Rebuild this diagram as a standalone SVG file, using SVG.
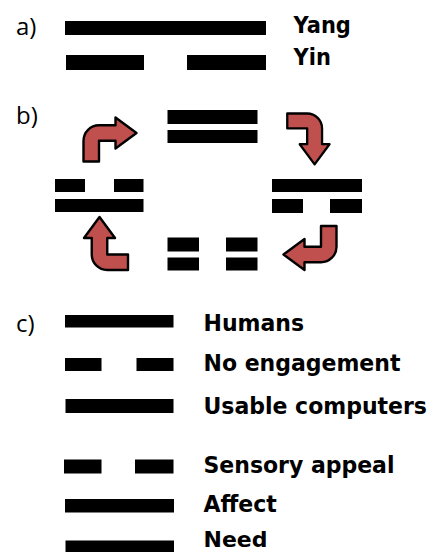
<svg xmlns="http://www.w3.org/2000/svg" width="435" height="552" viewBox="0 0 435 552">
<style>
.bar{fill:#000}
.lbl{font-family:"Open Sans","Noto Sans",sans-serif;font-size:24px;fill:#000}
.txt{font-family:"DejaVu Sans",Verdana,sans-serif;font-weight:bold;font-size:22px;fill:#000}
.sm{font-size:21px}
.arr{fill:#C0504D;stroke:#000;stroke-width:2.4;stroke-linejoin:round}
</style>
<defs>
<path id="bent" d="M0,44 V23.25 A15.5,15.5 0 0 1 15.5,7.75 H32 V0 L53,15.5 L32,31 V23.25 H15.5 V44 Z"/>
</defs>
<rect width="435" height="552" fill="#fff"/>

<g id="section-a">
<text class="lbl" x="16" y="35">a)</text>
<g id="yang"><rect class="bar" x="65" y="21" width="201" height="14"/><text class="txt sm" transform="translate(293.5,32.5) scale(1,1.07)">Yang</text></g>
<g id="yin"><rect class="bar" x="66" y="55" width="78" height="15"/><rect class="bar" x="187" y="55" width="79" height="15"/><text class="txt sm" transform="translate(293.5,65) scale(1,1.07)">Yin</text></g>
</g>

<g id="section-b">
<text class="lbl" x="16" y="124">b)</text>
<g id="tri-top"><rect class="bar" x="167.5" y="110" width="90" height="14"/><rect class="bar" x="167.5" y="130" width="90" height="13"/></g>
<g id="tri-right"><rect class="bar" x="272" y="179" width="90" height="13"/><rect class="bar" x="272" y="199" width="31" height="14"/><rect class="bar" x="330" y="199" width="32" height="14"/></g>
<g id="tri-bottom"><rect class="bar" x="167.5" y="237.5" width="31.5" height="14"/><rect class="bar" x="226" y="237.5" width="31.5" height="14"/><rect class="bar" x="167.5" y="257.5" width="31.5" height="13"/><rect class="bar" x="226" y="257.5" width="31.5" height="13"/></g>
<g id="tri-left"><rect class="bar" x="55" y="179" width="30" height="13"/><rect class="bar" x="114" y="179" width="29.5" height="13"/><rect class="bar" x="55" y="199" width="88.5" height="13"/></g>
<g id="connectors">
<use href="#bent" class="arr" transform="translate(83.5,117.5)"/>
<use href="#bent" class="arr" transform="translate(329.5,113.5) rotate(90) scale(0.96)"/>
<use href="#bent" class="arr" transform="translate(336.5,270) rotate(180)"/>
<use href="#bent" class="arr" transform="translate(84,270) rotate(-90)"/>
</g>
</g>

<g id="section-c">
<text class="lbl" x="16" y="331.5">c)</text>
<g id="humans"><rect class="bar" x="65" y="315" width="108.5" height="12.5"/><text class="txt" transform="translate(203.5,330.5) scale(1,1.07)">Humans</text></g>
<g id="no-engagement"><rect class="bar" x="65" y="358" width="36.5" height="13"/><rect class="bar" x="136.5" y="358" width="37" height="13"/><text class="txt" transform="translate(203.5,371) scale(1,1.07)">No engagement</text></g>
<g id="usable-computers"><rect class="bar" x="65.5" y="399" width="108" height="14"/><text class="txt" transform="translate(203.5,413.5) scale(1,1.07)">Usable computers</text></g>
<g id="sensory-appeal"><rect class="bar" x="64" y="459.5" width="37.5" height="14"/><rect class="bar" x="135" y="459.5" width="38.5" height="14"/><text class="txt" transform="translate(203.5,472.5) scale(1,1.07)">Sensory appeal</text></g>
<g id="affect"><rect class="bar" x="65" y="499" width="109" height="13.5"/><text class="txt" transform="translate(203.5,512.3) scale(1,1.07)">Affect</text></g>
<g id="need"><rect class="bar" x="65.5" y="540.5" width="108.5" height="14"/><text class="txt" x="203.5" y="546.5">Need</text></g>
</g>
</svg>
